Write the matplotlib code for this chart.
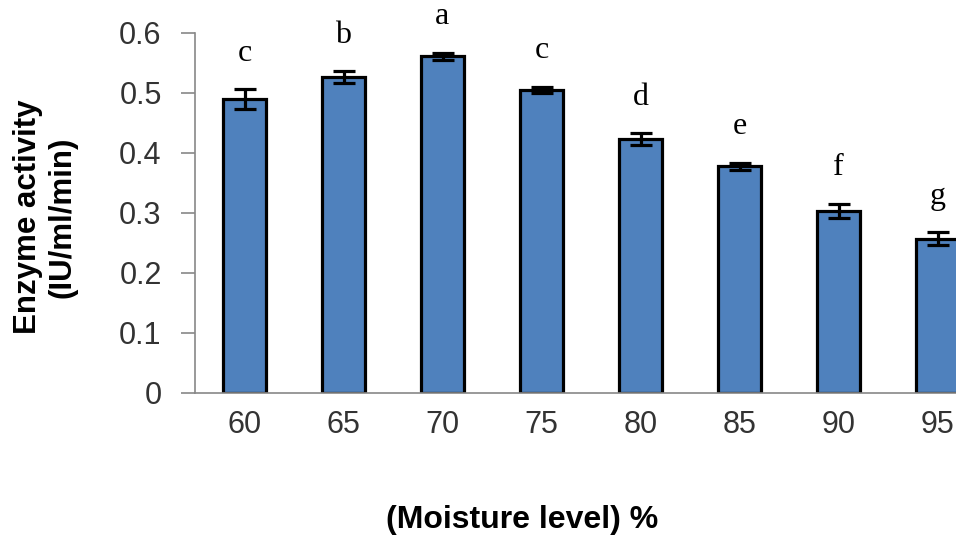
import numpy as np
import matplotlib
matplotlib.use('Agg')
import matplotlib.pyplot as plt

moisture = ['60', '65', '70', '75', '80', '85', '90', '95']
activity = [0.490, 0.526, 0.561, 0.505, 0.423, 0.378, 0.303, 0.257]
sd = [0.016, 0.010, 0.006, 0.005, 0.010, 0.006, 0.012, 0.011]
letters = ['c', 'b', 'a', 'c', 'd', 'e', 'f', 'g']

plt.rcParams['font.family'] = ['Liberation Sans', 'DejaVu Sans']

fig = plt.figure(figsize=(9.56, 5.42), dpi=100)
# plot area runs past the right edge of the figure, as in the original crop
ax = fig.add_axes([195 / 956, 1 - 393 / 542, 792 / 956, 360 / 542])

x = np.arange(len(moisture))
ax.bar(x, activity, width=0.44, color='#4F81BD', edgecolor='black', linewidth=2.3, zorder=2)
ax.errorbar(x, activity, yerr=sd, fmt='none', ecolor='black', elinewidth=2.3,
            capsize=8, capthick=2.3, zorder=3)

for xi, v, e, lab in zip(x, activity, sd, letters):
    ax.text(xi, v + e + 0.036, lab, ha='center', va='bottom', fontsize=23,
            family='Liberation Serif')

ax.set_xlim(-0.5, 7.5)
ax.set_ylim(0, 0.6)
ax.set_yticks(np.arange(0, 0.61, 0.1))
ax.set_yticklabels(['0', '0.1', '0.2', '0.3', '0.4', '0.5', '0.6'])
ax.set_xticks(x)
ax.set_xticklabels(moisture)

for s in ['top', 'right']:
    ax.spines[s].set_visible(False)
for s in ['left', 'bottom']:
    ax.spines[s].set_color('#888888')
    ax.spines[s].set_linewidth(1.2)

ax.tick_params(axis='y', direction='out', length=10, width=1.2, color='#888888',
               labelsize=22, pad=14, labelcolor='#333333')
ax.tick_params(axis='x', length=0, labelsize=22, pad=12, labelcolor='#333333')

fig.text(45 / 956, 1 - 217 / 542, 'Enzyme activity\n(IU/ml/min)', rotation=90,
         ha='center', va='center', fontsize=22.5, fontweight='bold', linespacing=1.2)
fig.text(522 / 956, 1 - 520 / 542, '(Moisture level) %', ha='center', va='center',
         fontsize=23, fontweight='bold')

fig.savefig('out.png', dpi=100)
